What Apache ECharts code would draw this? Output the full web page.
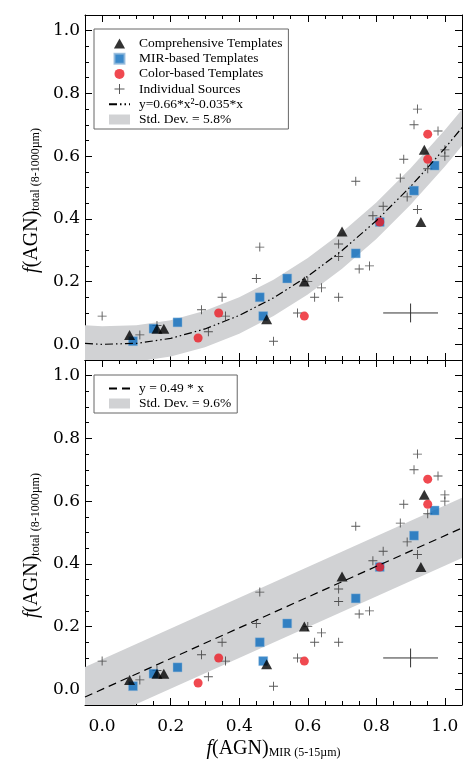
<!DOCTYPE html>
<html>
<head>
<meta charset="utf-8">
<script src="https://cdn.jsdelivr.net/npm/echarts@6/dist/echarts.min.js"></script>
<style>
html, body { margin: 0; padding: 0; background: #fff; }
#chart { width: 471px; height: 784px; }
</style>
</head>
<body>
<div id="chart"></div>
<script>
// 数据
var compX = [0.08, 0.16, 0.18, 0.48, 0.59, 0.70, 0.93, 0.94];
var compY = [0.03, 0.05, 0.05, 0.08, 0.20, 0.36, 0.39, 0.62];
var mirX = [0.09, 0.15, 0.22, 0.46, 0.47, 0.54, 0.74, 0.81, 0.91, 0.97];
var mirY = [0.01, 0.05, 0.07, 0.15, 0.09, 0.21, 0.29, 0.39, 0.49, 0.57];
var colorX = [0.28, 0.34, 0.59, 0.81, 0.95, 0.95];
var colorY = [0.02, 0.10, 0.09, 0.39, 0.67, 0.59];
var indivX = [0.00, 0.11, 0.16, 0.29, 0.31, 0.35, 0.36, 0.45, 0.46, 0.50, 0.57, 0.60, 0.62, 0.64, 0.69, 0.69,
    0.69, 0.74, 0.75, 0.78, 0.79, 0.82, 0.87, 0.88, 0.89, 0.91, 0.92, 0.92, 0.95, 0.98, 1.00, 1.00];
var indivY = [0.09, 0.03, 0.06, 0.11, 0.04, 0.15, 0.09, 0.21, 0.31, 0.01, 0.10, 0.20, 0.15, 0.18, 0.15, 0.28,
    0.32, 0.52, 0.24, 0.25, 0.41, 0.44, 0.53, 0.59, 0.47, 0.70, 0.75, 0.43, 0.56, 0.68, 0.62, 0.60];
// 上图拟合曲线及其标准差带
var fitX = [-0.05, 0.0, 0.1, 0.2, 0.3, 0.4, 0.5, 0.6, 0.7, 0.8, 0.9, 1.0, 1.05];
var fitY = [0.003, 0.0, 0.003, 0.019, 0.049, 0.092, 0.148, 0.217, 0.299, 0.394, 0.503, 0.625, 0.691];
var fitLo = [-0.055, -0.058, -0.055, -0.039, -0.009, 0.034, 0.090, 0.159, 0.241, 0.336, 0.445, 0.567, 0.633];
var fitHi = [0.061, 0.058, 0.061, 0.077, 0.107, 0.150, 0.206, 0.275, 0.357, 0.452, 0.561, 0.683, 0.749];
// 下图线性拟合
var linX = [-0.05, 1.05];
var linY = [-0.0245, 0.5145];
var linLo = [-0.1205, 0.4185];
var linHi = [0.0715, 0.6105];
// 误差示意
var errX = [0.90], errY = [0.10], errDX = [0.08], errDY = [0.03];
var tickVals = [0, 0.2, 0.4, 0.6, 0.8, 1.0];

var serif = 'Liberation Serif';
var tickFont = 'DejaVu Serif';
var plusIcon = 'path://M4.5,0H5.5V10H4.5Z M0,4.5H10V5.5H0Z';
var triIcon = 'path://M5,0L10,9L0,9Z';
var sqIcon = 'path://M0,0H10V10H0Z';

function pairs(xs, ys) {
    return xs.map(function (x, i) { return [x, ys[i]]; });
}
function fmt(v) { return v.toFixed(1); }

var nameRich = {
    i: {fontFamily: serif, fontStyle: 'italic', fontSize: 20, color: '#000'},
    n: {fontFamily: serif, fontSize: 20, color: '#000'},
    s: {fontFamily: serif, fontSize: 12, color: '#000', verticalAlign: 'bottom'}
};

function axisPair(dim, grid, posMain, labels, name) {
    var base = {
        gridIndex: grid, type: 'value', min: -0.05, max: 1.05, position: posMain,
        splitLine: {show: false}
    };
    var major = Object.assign({}, base, {
        axisLine: {show: true, onZero: false, lineStyle: {color: '#000', width: 1}},
        axisTick: {show: true, inside: true, length: 7, customValues: tickVals, lineStyle: {color: '#000'}},
        axisLabel: {
            show: labels, customValues: tickVals, formatter: fmt, margin: dim === 'x' ? 13 : 5,
            fontFamily: tickFont, fontSize: 17, color: '#000'
        }
    });
    if (name) {
        major.name = name;
        major.nameLocation = 'middle';
        major.nameTextStyle = {rich: nameRich};
        if (dim === 'x') {
            major.nameGap = 34;
        } else {
            major.nameGap = 36;
            major.nameRotate = 90;
            major.nameTextStyle = {rich: nameRich, padding: [0, 26, 0, 0]};
        }
    }
    var minor = Object.assign({}, base, {
        interval: 0.05,
        axisLine: {show: false, onZero: false},
        axisTick: {show: true, inside: true, length: 4, lineStyle: {color: '#000'}},
        axisLabel: {show: false}
    });
    return [major, minor];
}

var xName = '{i|f}{n|(AGN)}{s|MIR (5-15µm)}';
var yName = '{i|f}{n|(AGN)}{s|total (8-1000µm)}';

var xAxes = [].concat(
    axisPair('x', 0, 'bottom', false, null), axisPair('x', 0, 'top', false, null),
    axisPair('x', 1, 'bottom', true, xName), axisPair('x', 1, 'top', false, null)
);
var yAxes = [].concat(
    axisPair('y', 0, 'left', true, yName), axisPair('y', 0, 'right', false, null),
    axisPair('y', 1, 'left', true, yName), axisPair('y', 1, 'right', false, null)
);

function bandSeries(name, xs, lo, hi, axis) {
    return {
        name: name, type: 'custom', xAxisIndex: axis, yAxisIndex: axis, clip: true,
        itemStyle: {color: '#d1d2d4'},
        data: xs.map(function (x, i) { return [x, lo[i], hi[i]]; }),
        renderItem: function (params, api) {
            if (params.dataIndex !== 0) return null;
            var pts = [];
            xs.forEach(function (x, i) { pts.push(api.coord([x, lo[i]])); });
            for (var i = xs.length - 1; i >= 0; i--) pts.push(api.coord([xs[i], hi[i]]));
            return {type: 'polygon', shape: {points: pts}, style: {fill: '#d1d2d4'}};
        }
    };
}

function errSeries(axis) {
    return {
        type: 'custom', xAxisIndex: axis, yAxisIndex: axis,
        data: errX.map(function (x, i) { return [x, errY[i], errDX[i], errDY[i]]; }),
        renderItem: function (params, api) {
            var x = api.value(0), y = api.value(1), dx = api.value(2), dy = api.value(3);
            var a = api.coord([x - dx, y]), b = api.coord([x + dx, y]);
            var c = api.coord([x, y - dy]), d = api.coord([x, y + dy]);
            var st = {stroke: '#333', lineWidth: 1};
            return {
                type: 'group', children: [
                    {type: 'line', shape: {x1: a[0], y1: a[1], x2: b[0], y2: b[1]}, style: st},
                    {type: 'line', shape: {x1: c[0], y1: c[1], x2: d[0], y2: d[1]}, style: st}
                ]
            };
        }
    };
}

function pointSeries(axis) {
    return [{
        name: 'Individual Sources', type: 'scatter', xAxisIndex: axis, yAxisIndex: axis,
        symbol: plusIcon, symbolSize: 9, itemStyle: {color: '#2e2e2e'},
        data: pairs(indivX, indivY)
    }, {
        name: 'MIR-based Templates', type: 'scatter', xAxisIndex: axis, yAxisIndex: axis,
        symbol: 'rect', symbolSize: 9, itemStyle: {color: '#0a6cbd', borderColor: '#8fb6da', borderWidth: 0.5},
        data: pairs(mirX, mirY)
    }, {
        name: 'Color-based Templates', type: 'scatter', xAxisIndex: axis, yAxisIndex: axis,
        symbol: 'circle', symbolSize: 9, itemStyle: {color: '#ec1c24'},
        data: pairs(colorX, colorY)
    }, {
        name: 'Comprehensive Templates', type: 'scatter', xAxisIndex: axis, yAxisIndex: axis,
        symbol: 'triangle', symbolSize: [11, 10], itemStyle: {color: '#000'},
        data: pairs(compX, compY)
    }];
}

var legendText = {fontFamily: serif, fontSize: 13.5, color: '#000', lineHeight: 15, padding: [0, 0, 0, 4]};
var noMark = {color: 'rgba(0,0,0,0)', borderWidth: 0};

var chart = echarts.init(document.getElementById('chart'));
chart.setOption({
    animation: false,
    grid: [
        {left: 85, top: 15, width: 377, height: 345},
        {left: 85, top: 360, width: 377, height: 345}
    ],
    xAxis: xAxes,
    yAxis: yAxes,
    legend: [{
        orient: 'vertical', left: 94, top: 29, itemWidth: 21, itemHeight: 10, itemGap: 0.2,
        padding: [7, 6, 2, 14], borderColor: '#666', borderWidth: 1, selectedMode: false,
        textStyle: legendText,
        data: [
            {name: 'Comprehensive Templates', icon: triIcon},
            {name: 'MIR-based Templates', icon: sqIcon},
            {name: 'Color-based Templates', icon: 'circle'},
            {name: 'Individual Sources', icon: plusIcon},
            {name: 'y=0.66*x²-0.035*x', itemStyle: noMark},
            {name: 'Std. Dev. = 5.8%', icon: 'rect'}
        ]
    }, {
        orient: 'vertical', left: 94, top: 375, itemWidth: 21, itemHeight: 10, itemGap: 0,
        padding: [6, 6, 2, 14], borderColor: '#666', borderWidth: 1, selectedMode: false,
        textStyle: legendText,
        data: [
            {name: 'y = 0.49 * x', itemStyle: noMark},
            {name: 'Std. Dev. = 9.6%', icon: 'rect'}
        ]
    }],
    series: [].concat(
        [bandSeries('Std. Dev. = 5.8%', fitX, fitLo, fitHi, 0), {
            name: 'y=0.66*x²-0.035*x', type: 'line', xAxisIndex: 0, yAxisIndex: 0,
            symbol: 'none', clip: true, itemStyle: {color: '#000'},
            lineStyle: {color: '#000', width: 1.2, type: [8, 3, 1.5, 3, 1.5, 3]},
            data: pairs(fitX, fitY)
        }, errSeries(0)],
        pointSeries(0),
        [bandSeries('Std. Dev. = 9.6%', linX, linLo, linHi, 4), {
            name: 'y = 0.49 * x', type: 'line', xAxisIndex: 4, yAxisIndex: 4,
            symbol: 'none', clip: true, itemStyle: {color: '#000'},
            lineStyle: {color: '#000', width: 1.2, type: [8, 5]},
            data: pairs(linX, linY)
        }, errSeries(4)],
        pointSeries(4)
    )
});
</script>
</body>
</html>
